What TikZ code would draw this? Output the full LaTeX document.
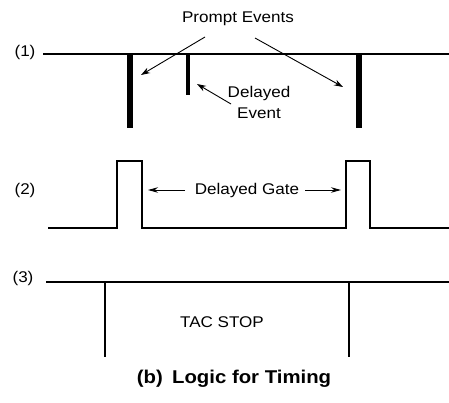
\documentclass[tikz,border=0pt]{standalone}
\usepackage{fontspec}
\setmainfont{Liberation Sans}
\newfontfamily\lblfont[FakeStretch=1.1]{Liberation Sans}
\usetikzlibrary{arrows.meta}
\begin{document}
\begin{tikzpicture}[x=1pt,y=-1pt,
  lbl/.style={inner sep=0pt,font=\lblfont\fontsize{15.5}{17}\selectfont},
  trace/.style={line width=1.6pt,line join=miter},
  thickbar/.style={line width=6pt},
  thinbar/.style={line width=3.8pt},
  pointer/.style={line width=0.9pt,-{Stealth[length=9pt,width=6pt]}},
  gatearrow/.style={line width=0.9pt,-{Stealth[length=10pt,width=5.5pt]}}]
\useasboundingbox (0,0) rectangle (449,403);

% row labels
\node[lbl] (l1) at (25,52) {(1)};
\node[lbl] (l2) at (25,190) {(2)};
\node[lbl] (l3) at (23,278) {(3)};

% trace (1): baseline with prompt and delayed events
\draw[trace] (43,54) -- (449,54);
\draw[thickbar] (129.5,54) -- (129.5,128);
\draw[thinbar] (188,54) -- (188,95);
\draw[thickbar] (359,54) -- (359,128);

\node[lbl] (prompt) at (238,19) {Prompt Events};
\coordinate (p1s) at (205,37);
\coordinate (p1e) at (141,75);
\coordinate (p2s) at (255,38);
\coordinate (p2e) at (343,87);
\draw[pointer] (p1s) -- (p1e);
\draw[pointer] (p2s) -- (p2e);

\node[lbl,align=center] (delayed) at (259,102) {Delayed\\[4pt]Event};
\coordinate (dts) at (231,104);
\coordinate (dte) at (197,84);
\draw[pointer] (dts) -- (dte);

% trace (2): delayed gate pulses
\draw[trace] (48,228) -- (117,228) -- (117,161) -- (142,161) -- (142,228)
  -- (346,228) -- (346,161) -- (370,161) -- (370,228) -- (449,228);
\node[lbl] (gate) at (247,190) {Delayed Gate};
\coordinate (gls) at (185,190);
\coordinate (gl) at (148,190);
\coordinate (grs) at (305,190);
\coordinate (gr) at (341,190);
\draw[gatearrow] (gls) -- (gl);
\draw[gatearrow] (grs) -- (gr);

% trace (3): TAC stop pulses
\draw[trace] (46,282) -- (449,282);
\draw[trace] (105,282) -- (105,357);
\draw[trace] (349,282) -- (349,357);
\node[lbl] (tac) at (222,322) {TAC STOP};

% caption
\node[inner sep=0pt,font=\lblfont\fontsize{18.5}{20}\selectfont\bfseries] (caption) at (234,379) {(b)\enspace Logic for Timing};
\end{tikzpicture}
\end{document}
